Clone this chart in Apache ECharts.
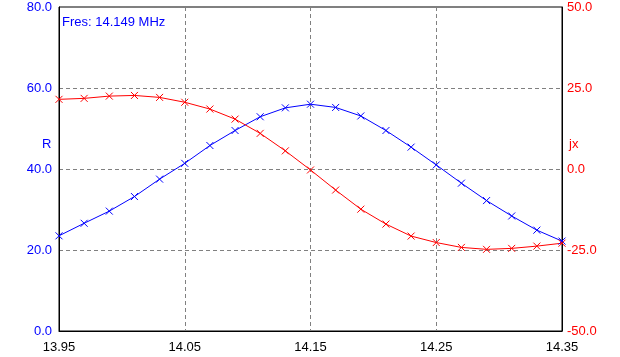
<!DOCTYPE html>
<html><head><meta charset="utf-8">
<script src="https://cdn.jsdelivr.net/npm/echarts@6/dist/echarts.min.js"></script>
<style>html,body{margin:0;padding:0;background:#fff}#c{width:620px;height:357px}</style>
</head><body><div id="c"></div>
<script>
const freqs = ["13.95","13.97","13.99","14.01","14.03","14.05","14.07","14.09","14.11","14.13","14.15","14.17","14.19","14.21","14.23","14.25","14.27","14.29","14.31","14.33","14.35"];
const rValues = [23.5,26.6,29.6,33.2,37.5,41.4,45.8,49.5,52.9,55.1,56.0,55.2,53.1,49.5,45.4,41.0,36.5,32.2,28.4,24.9,22.2];
const jxValues = [21.5,21.8,22.5,22.7,22.1,20.6,18.5,15.4,11.0,5.6,-0.3,-6.5,-12.4,-17.0,-20.7,-22.7,-24.2,-24.8,-24.5,-23.8,-22.9];
const resText = "Fres: 14.149 MHz";

const FONT = "Liberation Sans, Arial, sans-serif";
const FS = 13;
const xSym = 'path://M0,0L10,10M10,0L0,10';
const chart = echarts.init(document.getElementById('c'));
chart.setOption({
  animation: false,
  grid: {left: 59, right: 58, top: 7, bottom: 26},
  xAxis: {
    type: 'category', data: freqs, boundaryGap: false,
    axisLine: {show: true, lineStyle: {color: '#000', width: 1}},
    axisTick: {show: false},
    axisLabel: {interval: 4, color: '#000', fontFamily: FONT, fontSize: FS, margin: 10},
    splitLine: {show: true, interval: 4, lineStyle: {color: '#808080', type: [4, 3], width: 1}}
  },
  yAxis: [{
    type: 'value', min: 0, max: 80, interval: 20, position: 'left',
    axisLine: {show: true, lineStyle: {color: '#000'}},
    axisTick: {show: false},
    axisLabel: {color: '#0000ff', fontFamily: FONT, fontSize: FS, margin: 7, formatter: v => v.toFixed(1)},
    splitLine: {show: true, lineStyle: {color: '#808080', type: [4, 3], width: 1}}
  }, {
    type: 'value', min: -50, max: 50, interval: 25, position: 'right',
    axisLine: {show: true, lineStyle: {color: '#000'}},
    axisTick: {show: false},
    axisLabel: {color: '#ff0000', fontFamily: FONT, fontSize: FS, margin: 5, formatter: v => v.toFixed(1)},
    splitLine: {show: false}
  }],
  graphic: [
    {type: 'rect', shape: {x: 59, y: 7, width: 503, height: 324}, style: {fill: 'none', stroke: '#000', lineWidth: 1}, silent: true, z: 0},
    {type: 'text', left: 62, top: 16, style: {text: resText, fill: '#0000ff', font: FS + 'px ' + FONT}},
    {type: 'text', left: 42, top: 138, style: {text: 'R', fill: '#0000ff', font: FS + 'px ' + FONT}},
    {type: 'text', left: 569, top: 138, style: {text: 'jx', fill: '#ff0000', font: FS + 'px ' + FONT}}
  ],
  series: [{
    type: 'line', data: rValues, yAxisIndex: 0,
    lineStyle: {color: '#0000ff', width: 1},
    symbol: xSym, symbolSize: 7, showAllSymbol: true,
    itemStyle: {color: 'rgba(0,0,0,0)', borderColor: '#0000ff', borderWidth: 1}
  }, {
    type: 'line', data: jxValues, yAxisIndex: 1,
    lineStyle: {color: '#ff0000', width: 1},
    symbol: xSym, symbolSize: 7, showAllSymbol: true,
    itemStyle: {color: 'rgba(0,0,0,0)', borderColor: '#ff0000', borderWidth: 1}
  }]
});
</script></body></html>
